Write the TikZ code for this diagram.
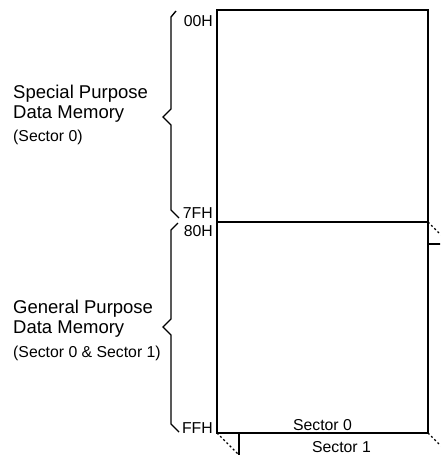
\documentclass[tikz,border=0pt]{standalone}
\usepackage{fontspec}
\setmainfont{Liberation Sans}

\begin{document}
\begin{tikzpicture}[x=1pt,y=-1pt,
  addr/.style={anchor=base east,inner sep=0pt,font=\fontsize{15.8}{18}\selectfont},
  title/.style={anchor=base west,inner sep=0pt,font=\fontsize{18.5}{21}\selectfont},
  note/.style={anchor=base west,inner sep=0pt,font=\fontsize{15.8}{18}\selectfont},
  sect/.style={anchor=base,inner sep=0pt,font=\fontsize{15.8}{18}\selectfont},
  membox/.style={draw,line width=1.6pt,fill=white},
  persp/.style={line width=1.4pt,dash pattern=on 2pt off 2.5pt},
  curly/.style={line width=1.4pt,line join=miter}]
  \useasboundingbox (0,0) rectangle (440,455);
  \clip (0,0) rectangle (440,455);
  % sector 1 lies behind sector 0
  \coordinate (s1nw) at (239,244);
  \coordinate (s1se) at (450,477);
  \draw[membox] (s1nw) rectangle (s1se);
  \coordinate (nw) at (217,10);
  \coordinate (se) at (428,433);
  \coordinate (sw) at (217,433);
  \coordinate (mw) at (217,222);
  \coordinate (me) at (428,222);
  \draw[persp] (sw) -- ++(22,22);
  \draw[persp] (me) -- ++(22,22);
  \draw[persp] (se) -- ++(22,22);
  \draw[membox] (nw) rectangle (se);
  \draw[line width=1.6pt] (mw) -- (me);
  % addresses
  \node[addr] (a00) at (213,26) {00H};
  \node[addr] (a7f) at (213,218) {7FH};
  \node[addr] (a80) at (213,236) {80H};
  \node[addr] (aff) at (213,433) {FFH};
  % braces
  \draw[curly] (176,11) -- (171,17) -- (171,109) -- (163,117) -- (171,125) -- (171,210) -- (179,218);
  \draw[curly] (178,223) -- (171,230) -- (171,319) -- (163,327) -- (171,335) -- (171,424) -- (179,432);
  % region names
  \node[title] (sp1) at (13,98) {Special Purpose};
  \node[title] (sp2) at (13,118) {Data Memory};
  \node[note] (sp3) at (13,141) {(Sector 0)};
  \node[title] (gp1) at (13,313) {General Purpose};
  \node[title] (gp2) at (13,333) {Data Memory};
  \node[note] (gp3) at (13,357) {(Sector 0 \& Sector 1)};
  \node[sect] (s0) at (322.5,430) {Sector 0};
  \node[sect] (s1) at (341.5,452) {Sector 1};
\end{tikzpicture}
\end{document}
